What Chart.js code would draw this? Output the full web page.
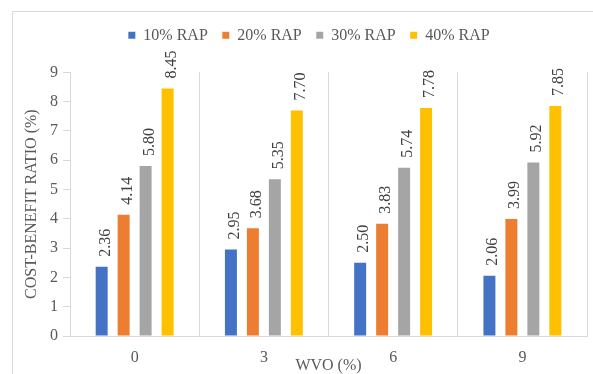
<!DOCTYPE html>
<html>
<head>
<meta charset="utf-8">
<script src="https://cdn.jsdelivr.net/npm/chart.js@4/dist/chart.umd.min.js"></script>
<style>
  html, body { margin: 0; padding: 0; background: #ffffff; overflow: hidden; }
  #wrap { position: absolute; left: 0; top: 0; width: 606px; height: 374px; }
</style>
</head>
<body>
<div id="wrap"><canvas id="chart"></canvas></div>
<script>
// WVO content (%) on the x axis
const categories = ['0', '3', '6', '9'];

// Cost-benefit ratio (%) for each RAP content
const seriesNames = ['10% RAP', '20% RAP', '30% RAP', '40% RAP'];
const rap10 = [2.36, 2.95, 2.50, 2.06];
const rap20 = [4.14, 3.68, 3.83, 3.99];
const rap30 = [5.80, 5.35, 5.74, 5.92];
const rap40 = [8.45, 7.70, 7.78, 7.85];

// y axis range and step
const yMin = 0;
const yMax = 9;
const yStep = 1;

const colors = ['#4472C4', '#ED7D31', '#A5A5A5', '#FFC000'];
const FONT = '"Liberation Serif", "Times New Roman", serif';
const TEXT = '#595959';
const GRID = '#d9d9d9';

const seriesValues = [rap10, rap20, rap30, rap40];

// Light frame around the chart (left and top edges)
const frame = {
  id: 'frame',
  beforeDraw(chart) {
    const ctx = chart.ctx;
    ctx.save();
    ctx.strokeStyle = GRID;
    ctx.lineWidth = 1;
    ctx.beginPath();
    ctx.moveTo(12.5, chart.height);
    ctx.lineTo(12.5, 11.5);
    ctx.lineTo(chart.width, 11.5);
    ctx.stroke();
    ctx.restore();
  }
};

// Rotated value labels above each bar
const valueLabels = {
  id: 'valueLabels',
  afterDatasetsDraw(chart) {
    const ctx = chart.ctx;
    ctx.save();
    ctx.font = '16px ' + FONT;
    ctx.fillStyle = '#404040';
    ctx.textAlign = 'left';
    ctx.textBaseline = 'alphabetic';
    chart.data.datasets.forEach((ds, i) => {
      chart.getDatasetMeta(i).data.forEach((bar, j) => {
        ctx.save();
        ctx.translate(bar.x, bar.y);
        ctx.rotate(-Math.PI / 2);
        ctx.fillText(ds.data[j].toFixed(2), 10, 8);
        ctx.restore();
      });
    });
    ctx.restore();
  }
};

new Chart(document.getElementById('chart'), {
  type: 'bar',
  data: {
    labels: categories,
    datasets: seriesNames.map((name, i) => ({
      label: name,
      data: seriesValues[i],
      backgroundColor: colors[i],
      borderWidth: 0,
      categoryPercentage: 0.68,
      barPercentage: 0.545
    }))
  },
  options: {
    responsive: true,
    maintainAspectRatio: false,
    animation: false,
    layout: { padding: { left: 12, top: 12.8, right: 0, bottom: 0 } },
    plugins: {
      legend: {
        position: 'top',
        labels: {
          boxWidth: 7,
          boxHeight: 7,
          padding: 14.5,
          color: TEXT,
          font: { family: FONT, size: 16 }
        }
      },
      tooltip: { enabled: false }
    },
    scales: {
      x: {
        grid: { display: true, drawOnChartArea: true, drawTicks: false, offset: true, color: GRID },
        border: { display: true, color: GRID },
        ticks: { padding: 12, color: TEXT, font: { family: FONT, size: 16 } },
        title: {
          display: true,
          text: 'WVO (%)',
          color: TEXT,
          font: { family: FONT, size: 16, lineHeight: 1 },
          padding: 0
        },
        afterFit(s) { s.height = 38; s.paddingRight = 19; }
      },
      // empty band between the legend and the plot, room for the value labels
      labelRoom: {
        type: 'category',
        position: 'top',
        display: true,
        grid: { display: false },
        border: { display: false },
        ticks: { display: false },
        afterFit(s) { s.height = 19; }
      },
      y: {
        min: yMin,
        max: yMax,
        ticks: { stepSize: yStep, padding: 5, color: TEXT, font: { family: FONT, size: 16 } },
        grid: { drawOnChartArea: false, drawTicks: true, tickLength: 7, color: GRID },
        border: { display: true, color: GRID },
        title: {
          display: true,
          text: 'COST-BENEFIT RATIO (%)',
          color: TEXT,
          font: { family: FONT, size: 16, lineHeight: 1 },
          padding: { top: 12, bottom: 0 }
        },
        afterFit(s) { s.width = 58; }
      }
    }
  },
  plugins: [frame, valueLabels]
});
</script>
</body>
</html>
